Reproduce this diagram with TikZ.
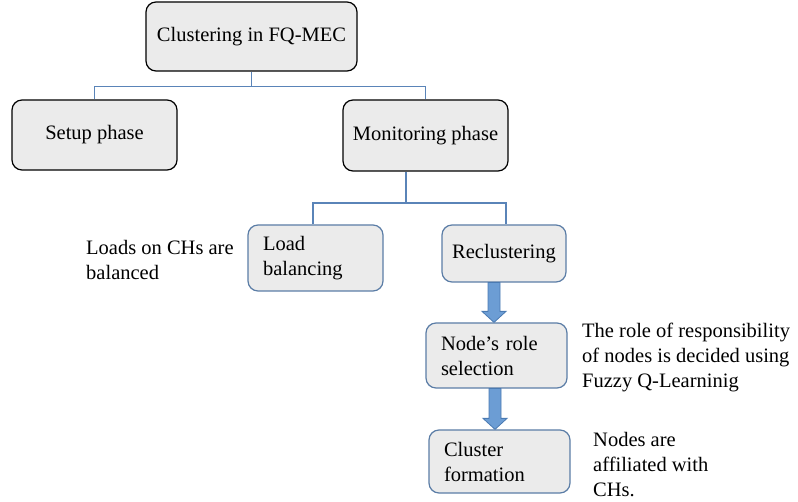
\documentclass[tikz,border=0pt]{standalone}
\usepackage{fontspec}
\setmainfont{Liberation Serif}
\usetikzlibrary{calc}
\definecolor{boxfill}{HTML}{EBEBEB}
\definecolor{boxblue}{HTML}{5B7DA6}
\definecolor{linkblue}{HTML}{5A84B8}
\definecolor{arrowfill}{HTML}{6C9DD4}
\definecolor{arrowline}{HTML}{4A7AB2}
\begin{document}
\begin{tikzpicture}[x=1pt,y=-1pt,
  font=\fontsize{20.5}{25}\selectfont,
  box/.style={draw=black, line width=1.2pt, fill=boxfill, rounded corners=10pt, inner sep=0pt},
  bbox/.style={draw=boxblue, line width=1.2pt, fill=boxfill, rounded corners=10pt, inner sep=0pt},
  link/.style={draw=linkblue, line width=1.2pt},
  barrow/.style={fill=arrowfill, draw=arrowline, line width=0.8pt, line join=miter},
  note/.style={anchor=north west, inner sep=0pt, align=left}]
\useasboundingbox (0,0) rectangle (798,502);

\node[box, minimum width=211pt, minimum height=69pt] (top) at (251.5,36.5) {Clustering in FQ-MEC};
\node[box, minimum width=165pt, minimum height=70pt] (setup) at (94.5,135) {Setup phase};
\node[box, minimum width=165pt, minimum height=71pt] (mon) at (425.5,135.5) {Monitoring phase};

\node[bbox, minimum width=135pt, minimum height=66pt, text width=105pt, align=left] (lb) at (315.5,258) {Load\\balancing};
\node[bbox, minimum width=124pt, minimum height=57pt] (rc) at (504,253.5) {Reclustering};
\node[bbox, minimum width=141pt, minimum height=65pt, text width=111pt, align=left] (nr) at (496.5,355.5) {Node’s role\\selection};
\node[bbox, minimum width=141pt, minimum height=63pt, text width=111pt, align=left] (cf) at (499.5,461.5) {Cluster\\formation};

\node[note] (t1) at (86,240.5) {Loads on CHs are\\balanced};
\node[note] (t2) at (582,322.5) {The role of responsibility\\of nodes is decided using\\Fuzzy Q-Learninig};
\node[note] (t3) at (593,432.5) {Nodes are\\affiliated with\\CHs.};

% tree connectors
\coordinate (j1) at (top.south |- 0,86.5);
\draw[link] (top.south) -- (j1);
\draw[link] (setup.north) |- (j1) -| (mon.north);
\coordinate (j2) at (406,203);
\draw[link] (j2) -- (j2 |- mon.south);
\draw[link] ([xshift=-2.5pt]lb.north) |- (j2) -| ([xshift=2pt]rc.north);

% block arrows
\coordinate (a1t) at (rc.south -| 494,0);
\coordinate (a1h) at (nr.north -| 494,0);
\draw[barrow] ($(a1t)+(-6,0)$) -- ($(a1h)+(-6,-11)$) -- ($(a1h)+(-12,-11)$) -- (a1h)
  -- ($(a1h)+(12,-11)$) -- ($(a1h)+(6,-11)$) -- ($(a1t)+(6,0)$) -- cycle;
\coordinate (a2t) at (nr.south -| 495,0);
\coordinate (a2h) at (cf.north -| 495,0);
\draw[barrow] ($(a2t)+(-6,0)$) -- ($(a2h)+(-6,-11)$) -- ($(a2h)+(-12,-11)$) -- (a2h)
  -- ($(a2h)+(12,-11)$) -- ($(a2h)+(6,-11)$) -- ($(a2t)+(6,0)$) -- cycle;
\end{tikzpicture}
\end{document}
